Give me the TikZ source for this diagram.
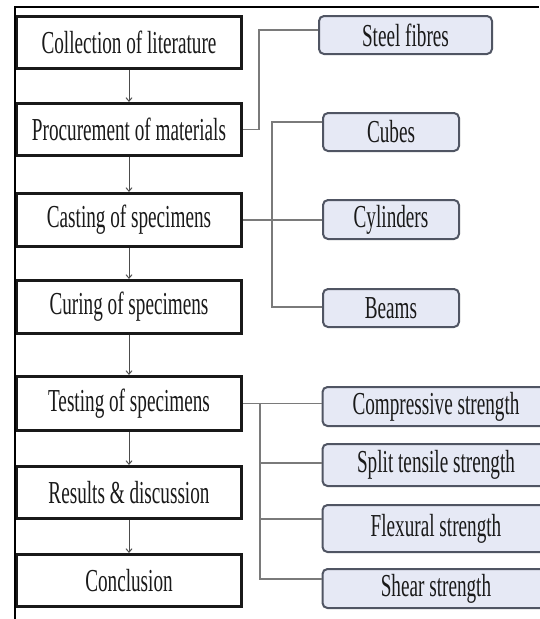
\documentclass[tikz,border=0pt]{standalone}
\usepackage{fontspec}
\setmainfont[FakeStretch=0.6]{Liberation Serif}
\usetikzlibrary{arrows.meta}
\definecolor{boxfill}{HTML}{E6E9F5}
\definecolor{boxline}{HTML}{505563}
\definecolor{connclr}{HTML}{7A7A7A}
\definecolor{txt}{HTML}{1A1A1A}
\begin{document}
\begin{tikzpicture}[x=1pt,y=-1pt,
  stepbox/.style={draw=black!90, line width=2.6pt, fill=white, minimum width=225.5pt,
    inner sep=0pt, font=\fontsize{32}{34}\selectfont, text=txt},
  subbox/.style={draw=boxline, line width=2pt, fill=boxfill, rounded corners=5pt,
    inner sep=0pt, font=\fontsize{32}{34}\selectfont, text=txt},
  connline/.style={draw=connclr, line width=1.4pt},
  flowarrow/.style={draw=gray!60!black, line width=1pt, -{Straight Barb[length=3.5pt,width=6pt]}},
  frameline/.style={draw=black, line width=2.5pt}]
\useasboundingbox (0,0) rectangle (539,619);

% left column
\node[stepbox, minimum height=52.5pt] (s1) at (129,42.5) {Collection of literature};
\node[stepbox, minimum height=52.5pt] (s2) at (129,129.5) {Procurement of materials};
\node[stepbox, minimum height=53.5pt] (s3) at (129,220) {Casting of specimens};
\node[stepbox, minimum height=53.5pt] (s4) at (129,307) {Curing of specimens};
\node[stepbox, minimum height=54.5pt] (s5) at (129,403.5) {Testing of specimens};
\node[stepbox, minimum height=52.5pt] (s6) at (129,492.5) {Results \& discussion};
\node[stepbox, minimum height=52.5pt] (s7) at (129,580.5) {Conclusion};

% right boxes
\node[subbox, minimum width=173pt, minimum height=38pt] (r1) at (405.5,35) {Steel fibres};
\node[subbox, minimum width=136pt, minimum height=38pt] (r2) at (391,132) {Cubes};
\node[subbox, minimum width=136pt, minimum height=39pt] (r3) at (391,219.5) {Cylinders};
\node[subbox, minimum width=136pt, minimum height=38pt] (r4) at (391,308) {Beams};
\node[subbox, minimum width=227pt, minimum height=39pt] (t1) at (436,406.5) {Compressive strength};
\node[subbox, minimum width=227pt, minimum height=42pt] (t2) at (436,465) {Split tensile strength};
\node[subbox, minimum width=227pt, minimum height=47pt] (t3) at (436,528.5) {Flexural strength};
\node[subbox, minimum width=227pt, minimum height=39pt] (t4) at (436,588.5) {Shear strength};

% flow arrows
\draw[flowarrow] (s1) -- (s2);
\draw[flowarrow] (s2) -- (s3);
\draw[flowarrow] (s3) -- (s4);
\draw[flowarrow] (s4) -- (s5);
\draw[flowarrow] (s5) -- (s6);
\draw[flowarrow] (s6) -- (s7);

% connectors
\coordinate (j1) at (259,30);
\draw[connline] (s2.east) -| (j1) -- (r1.west |- j1);

\coordinate (j2) at (272,122);
\coordinate (j3) at (272,307);
\draw[connline] (s3.east) -- (r3.west |- s3.east);
\draw[connline] (r2.west |- j2) -- (j2) -- (j3) -- (r4.west |- j3);

\coordinate (k1) at (260,403.5);
\coordinate (k2) at (260,463);
\coordinate (k3) at (260,519);
\coordinate (k4) at (260,579);
\draw[connline] (s5.east) -- (t1.west |- s5.east);
\draw[connline] (k1) -- (k4) -- (t4.west |- k4);
\draw[connline] (k2) -- (t2.west |- k2);
\draw[connline] (k3) -- (t3.west |- k3);

% frame
\coordinate (f0) at (15,619);
\coordinate (f1) at (15,7);
\coordinate (f2) at (539,7);
\draw[frameline] (f0) -- (f1) -- (f2);
\end{tikzpicture}
\end{document}
